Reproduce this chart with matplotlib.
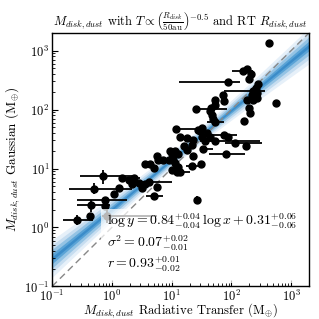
import numpy as np
import matplotlib
matplotlib.use("Agg")
import matplotlib.pyplot as plt
from matplotlib.patches import Rectangle

plt.rcParams['mathtext.fontset'] = 'cm'
plt.rcParams['font.family'] = 'serif'
plt.rcParams['font.serif'] = ['cmr10', 'DejaVu Serif']
plt.rcParams['axes.formatter.use_mathtext'] = True
plt.rcParams['axes.unicode_minus'] = False

# log10 masses (M_earth): radiative transfer (x) vs Gaussian (y)
log_m_rt = [2.63, 2.19, 2.27, 2.33, 1.94, 2.30, 2.45, 2.41, 2.36, 2.43,
            2.34, 2.37, 2.26, 2.43, 2.75, 2.29, 2.31, 2.22, 1.86, 1.87,
            1.72, 1.73, 1.66, 1.64, 1.67, 1.70, 1.41, 1.73, 1.51, 1.45,
            1.08, 1.48, 1.51, 1.59, 1.64, 1.88, 1.95, 1.14, 1.25, 1.36,
            1.34, 1.56, 1.73, 2.06, 2.25, 1.53, 1.91, 1.20, 1.25, 1.06,
            1.11, 1.36, 0.97, 1.00, 0.76, 0.78, 0.86, 0.95, 1.03, 1.06,
            0.64, 1.11, 1.00, 1.34, 1.49, 1.09, 1.14, 0.56, 0.70,
            -0.15, 0.17, 0.28, 0.37, 0.33, 0.45, 0.56, 0.51, 0.62, 0.76,
            0.12, -0.30, 0.03, -0.12, 0.70, -0.34, -0.11, 1.42, -0.59, -0.36,
            -0.08]
log_m_gauss = [3.13, 2.66, 2.69, 2.60, 2.46, 2.52, 2.43, 2.37, 2.32, 2.28,
               2.25, 2.17, 2.17, 2.20, 2.11, 2.03, 1.94, 1.80, 2.25, 2.14,
               2.17, 2.08, 2.03, 1.97, 1.91, 1.84, 2.01, 1.79, 1.69, 1.66,
               1.67, 1.63, 1.54, 1.60, 1.54, 1.57, 1.53, 1.54, 1.52, 1.49,
               1.40, 1.46, 1.46, 1.43, 1.39, 1.33, 1.25, 1.39, 1.32, 1.29,
               1.24, 1.21, 1.29, 1.24, 1.21, 1.15, 1.15, 1.15, 1.15, 1.09,
               1.07, 1.02, 0.98, 1.04, 1.08, 0.94, 0.94, 1.07, 1.01,
               0.87, 0.84, 0.81, 0.84, 0.73, 0.76, 0.73, 0.67, 0.78, 0.69,
               0.67, 0.65, 0.56, 0.47, 0.53, 0.39, 0.36, 0.47, 0.13, 0.19,
               0.19]
# errors in dex (lower, upper)
dex_rt_lo = [0, 0.18, 0, 0, 0.81, 0, 0, 0, 0.48, 0,
             0, 0, 0, 0, 0, 0, 0, 0, 0, 0,
             0, 0, 0, 0, 0, 0, 0.03, 0.14, 0, 0,
             0.02, 0, 0, 0, 0, 0.21, 0, 0, 0, 0,
             0, 0, 0.25, 0.16, 0, 0.05, 0.29, 0, 0, 0,
             0, 0, 0, 0, 0, 0, 0, 0, 0, 0,
             0, 0, 0, 0.10, 0, 0, 0.0, 0, 0,
             0.38, 0, 0, 0.18, 0, 0, 0, 0, 0.28, 0,
             0, 0.42, 0, 0.46, 0.12, 0.24, 0, 0, 0.22, 0,
             0.08]
dex_rt_hi = [0, 0.17, 0, 0, 0.21, 0, 0, 0, 0.20, 0,
             0, 0, 0, 0, 0, 0, 0, 0, 0, 0,
             0, 0, 0, 0, 0, 0, 0.51, 0.14, 0, 0,
             0.37, 0, 0, 0, 0, 0.21, 0, 0, 0, 0,
             0, 0, 0.75, 0.45, 0, 0.17, 0.32, 0, 0, 0,
             0, 0, 0, 0, 0, 0, 0, 0, 0, 0,
             0, 0, 0, 0.17, 0, 0, 0.17, 0, 0,
             0.49, 0, 0, 0.10, 0, 0, 0, 0, 0.39, 0,
             0, 0.64, 0, 0.38, 0.16, 0.31, 0, 0, 0.28, 0,
             0.84]
dex_g_lo = [0] * 69 + [0.14, 0, 0, 0, 0, 0, 0, 0, 0, 0,
                       0, 0.09, 0, 0, 0, 0.12, 0, 0.06, 0.08, 0,
                       0.12]
dex_g_hi = [0] * 69 + [0.11, 0, 0, 0, 0, 0, 0, 0, 0, 0,
                       0, 0.11, 0, 0, 0, 0.08, 0, 0.07, 0.09, 0,
                       0.12]

# fit: log y = a log x + b
fit_slope = 0.84
fit_intercept = 0.31
fit_slope_err = 0.04
fit_intercept_err = 0.06

fit_lines = [r'$\log y = 0.84^{+0.04}_{-0.04}\,\log x + 0.31^{+0.06}_{-0.06}$',
             r'$\sigma^2 = 0.07^{+0.02}_{-0.01}$',
             r'$r = 0.93^{+0.01}_{-0.02}$']

lx = np.array(log_m_rt)
ly = np.array(log_m_gauss)
x = 10 ** lx
y = 10 ** ly
xerr = [x - 10 ** (lx - np.array(dex_rt_lo)), 10 ** (lx + np.array(dex_rt_hi)) - x]
yerr = [y - 10 ** (ly - np.array(dex_g_lo)), 10 ** (ly + np.array(dex_g_hi)) - y]

fig = plt.figure(figsize=(3.19, 3.19), dpi=100)
ax = fig.add_axes([0.163, 0.102, 0.806, 0.795])

lim = (0.1, 2000)
ax.set_xscale('log')
ax.set_yscale('log')
ax.set_xlim(lim)
ax.set_ylim(lim)

# fit band
g = np.linspace(-1.2, 3.5, 200)
mid = fit_slope * g + fit_intercept
pivot = 1.2
sig = np.sqrt(fit_slope_err ** 2 + (fit_slope_err * (g - pivot)) ** 2) * 1.1
for k, c in [(3.0, '#e6f0f9'), (2.2, '#c6ddf0'), (1.5, '#94c3e4'), (0.8, '#5aa3d6'), (0.3, '#3b8cc9')]:
    ax.fill_between(10 ** g, 10 ** (mid - k * sig), 10 ** (mid + k * sig), color=c, lw=0, zorder=1)

ax.plot(lim, lim, ls=(0, (5, 3)), color='#888888', lw=1.0, zorder=1.5)

ax.errorbar(x, y, xerr=xerr, yerr=yerr, fmt='o', color='black', ms=5,
            elinewidth=1.3, capsize=0, zorder=2)

# translucent box behind the fit annotation
ax.add_patch(Rectangle((0.19, 0.015), 0.79, 0.29, transform=ax.transAxes,
                       facecolor='white', alpha=0.72, edgecolor='none', zorder=3))
for ypos, t in zip([0.256, 0.171, 0.085], fit_lines):
    ax.text(0.213, ypos, t, transform=ax.transAxes, fontsize=10, ha='left',
            va='center', zorder=4)

ax.tick_params(which='both', direction='in', top=False, right=False)
ax.tick_params(which='major', length=4, labelsize=9, pad=2)
ax.tick_params(which='minor', length=2)
for s in ax.spines.values():
    s.set_linewidth(1.0)

ax.set_xlabel(r'$M_{disk,dust}$ Radiative Transfer (M$_{\oplus}$)', fontsize=9.2, labelpad=-2)
ax.set_ylabel(r'$M_{disk,dust}$ Gaussian (M$_{\oplus}$)', fontsize=9.5, labelpad=1)
ax.set_title(r'$M_{disk,dust}$ with $T \propto \left(\frac{R_{disk}}{50\mathrm{au}}\right)^{-0.5}$ and RT $R_{disk,dust}$',
             fontsize=9, pad=4)

fig.savefig('out.png', dpi=100)
